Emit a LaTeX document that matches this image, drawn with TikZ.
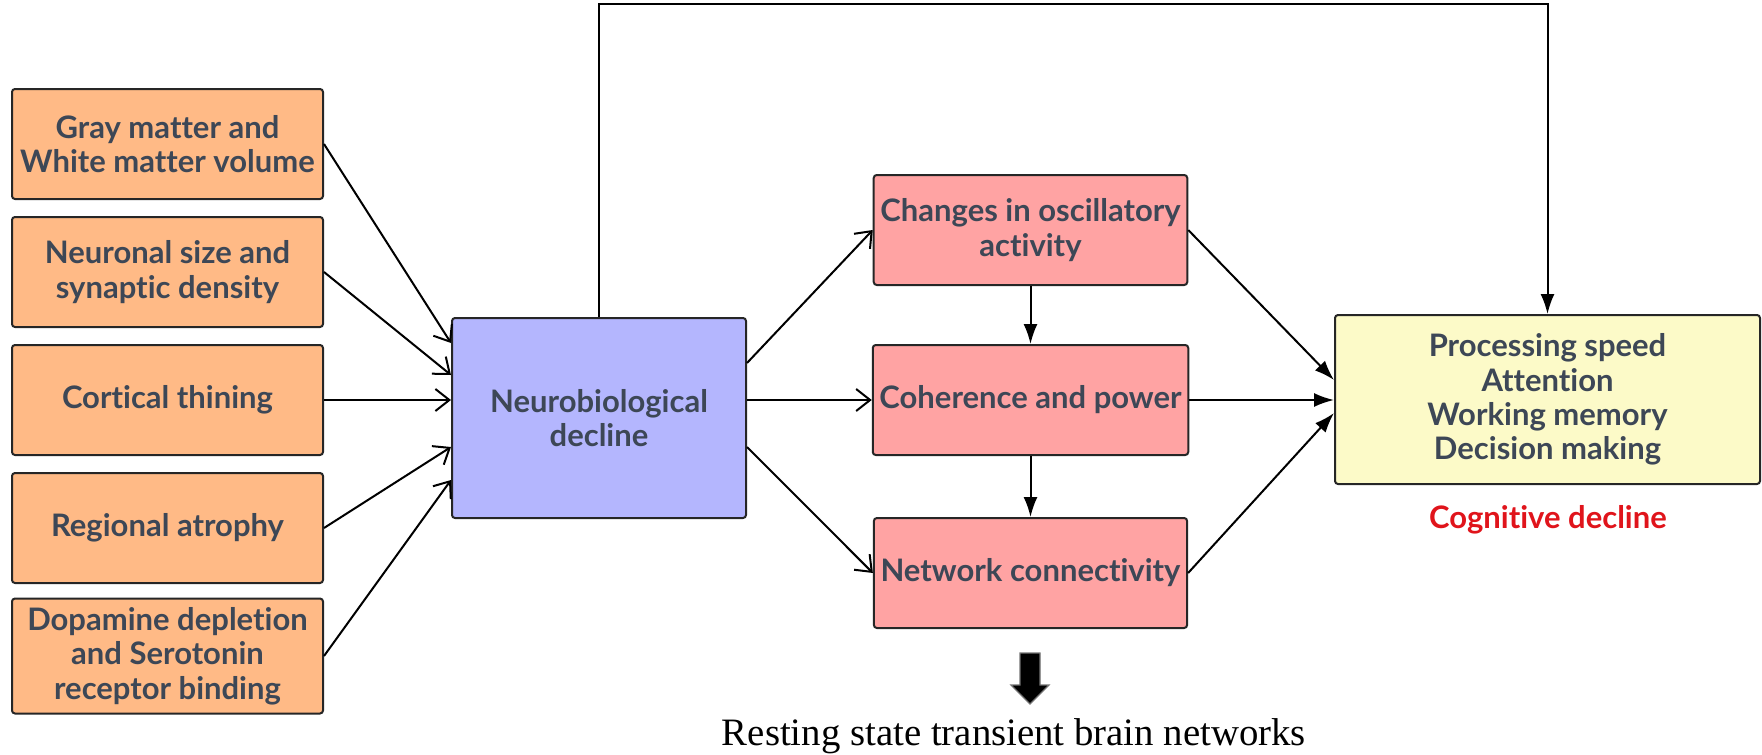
\documentclass[tikz,border=0pt]{standalone}
\usepackage{fontspec}
\setmainfont{Lato}[Ligatures=NoCommon]
\newfontfamily\captionfont{Liberation Serif}
\usepackage{xcolor}
\usepackage{tikz}
\usetikzlibrary{positioning, calc, arrows.meta}
\definecolor{boxtext}{HTML}{3D4756}
\definecolor{causefill}{HTML}{FFBA86}
\definecolor{corefill}{HTML}{B4B6FE}
\definecolor{signalfill}{HTML}{FFA3A3}
\definecolor{outcomefill}{HTML}{FCFAC8}
\definecolor{alertred}{HTML}{E0141B}
\newcommand{\boxfont}{\bfseries\fontsize{15.5}{17.2}\selectfont}
\tikzstyle{box} = [rectangle, rounded corners=1.5pt, align=center, draw=black!85, line width=1pt, text=boxtext, font=\boxfont]
\tikzstyle{cause} = [box, minimum width=155.5pt, minimum height=55pt, fill=causefill]
\tikzstyle{core} = [box, minimum width=147pt, minimum height=100pt, fill=corefill]
\tikzstyle{signal} = [box, minimum width=155.5pt, minimum height=55pt, fill=signalfill]
\tikzstyle{outcome} = [box, minimum width=212.5pt, minimum height=84.5pt, fill=outcomefill]
\tikzstyle{openarrow} = [line width=1pt, -{Straight Barb[length=7pt,width=11pt]}]
\tikzstyle{fillarrow} = [line width=1pt, -{Latex[length=10pt,width=7pt]}]

\begin{document}
\begin{tikzpicture}[x=0.5pt, y=-0.5pt, node distance=64pt]
\useasboundingbox (0,0) rectangle (1762,755);

\node (gray) [cause] at (167.5,144) {Gray matter and\\White matter volume};
\node (neuronal) [cause, below of=gray] {Neuronal size and\\synaptic density};
\node (cortical) [cause, below of=neuronal] {Cortical thining};
\node (atrophy) [cause, below of=cortical] {Regional atrophy};
\node (dopamine) [cause, below of=atrophy, minimum height=57.5pt] {Dopamine depletion\\and Serotonin\\receptor binding};

\node (neuro) [core] at (599,418) {\fontsize{15.5}{19}\selectfont Neurobiological\\decline};

\node (osc) [signal] at (1030.5,230) {Changes in oscillatory\\activity};
\node (coh) [signal, below of=osc, node distance=85pt] {Coherence and power};
\node (net) [signal, below of=coh, node distance=86.5pt] {Network connectivity};

\node (cog) [outcome] at (1547.5,399.5) {Processing speed\\Attention\\Working memory\\Decision making};
\node (coglabel) [font=\boxfont, text=alertred] at (1548,520) {Cognitive decline};

\node (rest) [font=\captionfont\fontsize{19.4}{22}\selectfont] at (1014,736) {Resting state transient brain networks};

\draw [openarrow] (gray.east) -- (neuro.west |- 0,343);
\draw [openarrow] (neuronal.east) -- (neuro.west |- 0,375);
\draw [openarrow] (cortical.east) -- (neuro.west |- cortical.east);
\draw [openarrow] (atrophy.east) -- (neuro.west |- 0,447);
\draw [openarrow] (dopamine.east) -- (neuro.west |- 0,480);

\draw [openarrow] (neuro.east |- 0,363) -- (osc.west);
\draw [openarrow] (neuro.east |- coh.west) -- (coh.west);
\draw [openarrow] (neuro.east |- 0,447) -- (net.west);

\draw [fillarrow] (osc) -- (coh);
\draw [fillarrow] (coh) -- (net);

\draw [fillarrow] (osc.east) -- (cog.west |- 0,380);
\draw [fillarrow] (coh.east) -- (cog.west |- coh.east);
\draw [fillarrow] (net.east) -- (cog.west |- 0,413);

\coordinate (top) at (1000,4);
\draw [fillarrow] (neuro.north) |- (top) -| (cog.north);

% block arrow down to resting state
\filldraw [fill=black, draw=black!55, line width=0.6pt] (1020,653) -- (1040,653) -- (1040,685) -- (1049,685) -- (1030,704) -- (1011,685) -- (1020,685) -- cycle;

\end{tikzpicture}
\end{document}
